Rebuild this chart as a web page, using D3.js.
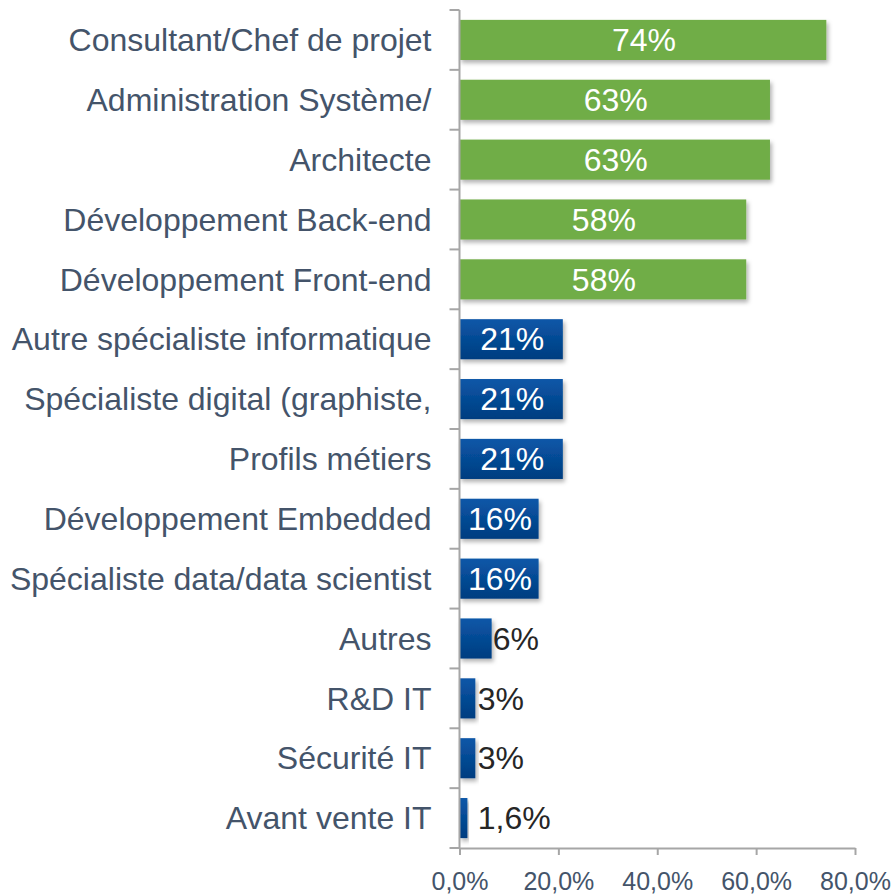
<!DOCTYPE html>
<html>
<head>
<meta charset="utf-8">
<script src="https://cdn.jsdelivr.net/npm/d3@7"></script>
<style>
  body { margin: 0; background: #fff; }
  text { font-family: "Liberation Sans", Arial, sans-serif; }
</style>
</head>
<body>
<div id="chart"></div>
<script>
// data
let categories = [
  'Consultant/Chef de projet', 'Administration Système/', 'Architecte',
  'Développement Back-end', 'Développement Front-end', 'Autre spécialiste informatique',
  'Spécialiste digital (graphiste,', 'Profils métiers', 'Développement Embedded',
  'Spécialiste data/data scientist', 'Autres', 'R&D IT', 'Sécurité IT', 'Avant vente IT'
];
let values = [74.2, 62.8, 62.8, 58.0, 58.0, 20.9, 20.9, 20.9, 16.0, 16.0, 6.5, 3.2, 3.2, 1.6];
let labels = ['74%', '63%', '63%', '58%', '58%', '21%', '21%', '21%', '16%', '16%', '6%', '3%', '3%', '1,6%'];
let groups = ['top', 'top', 'top', 'top', 'top', 'rest', 'rest', 'rest', 'rest', 'rest', 'rest', 'rest', 'rest', 'rest'];
let xTicks = [0, 20, 40, 60, 80];

let config = { width: 896, height: 895 };
let axisColor = '#a6a6a6';
let textColor = '#44546A';

let svg = d3.select('#chart').append('svg')
  .attr('width', config.width)
  .attr('height', config.height);

let defs = svg.append('defs');
let grad = defs.append('linearGradient')
  .attr('id', 'blueGrad')
  .attr('x1', 0).attr('y1', 0).attr('x2', 0).attr('y2', 1);
grad.append('stop').attr('offset', '0%').attr('stop-color', '#0B57A8');
grad.append('stop').attr('offset', '100%').attr('stop-color', '#003D80');

let shadow = defs.append('filter').attr('id', 'shadow')
  .attr('x', '-10%').attr('y', '-20%').attr('width', '130%').attr('height', '160%');
shadow.append('feDropShadow')
  .attr('dx', 2).attr('dy', 3).attr('stdDeviation', 2)
  .attr('flood-color', '#000').attr('flood-opacity', 0.3);

let x = d3.scaleLinear().domain([0, 80]).range([459.5, 855]);
let y = d3.scaleBand().domain(categories).range([10, 848])
  .paddingInner(0.33).paddingOuter(0.165);

let rows = categories.map(function(c, i) {
  return { cat: c, value: values[i], label: labels[i], group: groups[i] };
});

// bars
svg.selectAll('rect.bar')
  .data(rows).enter()
  .append('rect')
  .attr('class', 'bar')
  .attr('x', x(0))
  .attr('y', function(d) { return y(d.cat); })
  .attr('width', function(d) { return x(d.value) - x(0); })
  .attr('height', y.bandwidth())
  .attr('fill', function(d) { return d.group === 'top' ? '#70AD47' : 'url(#blueGrad)'; })
  .attr('filter', 'url(#shadow)');

// vertical axis: line plus ticks at band boundaries
let yAxis = svg.append('g').attr('class', 'y-axis');
let boundaries = d3.range(categories.length + 1).map(function(i) {
  return y.range()[0] + i * y.step();
});
yAxis.append('line')
  .attr('x1', x(0)).attr('x2', x(0))
  .attr('y1', boundaries[0]).attr('y2', boundaries[boundaries.length - 1])
  .attr('stroke', axisColor).attr('stroke-width', 2);
yAxis.selectAll('line.tick')
  .data(boundaries).enter()
  .append('line')
  .attr('class', 'tick')
  .attr('x1', x(0) - 10).attr('x2', x(0))
  .attr('y1', function(d) { return d; }).attr('y2', function(d) { return d; })
  .attr('stroke', axisColor).attr('stroke-width', 2);

yAxis.selectAll('text')
  .data(categories).enter()
  .append('text')
  .attr('x', x(0) - 28)
  .attr('y', function(d) { return y(d) + y.bandwidth() / 2; })
  .attr('dy', '0.35em')
  .attr('text-anchor', 'end')
  .attr('font-size', 32)
  .attr('fill', textColor)
  .text(function(d) { return d; });

// horizontal axis
let xAxis = svg.append('g')
  .attr('transform', 'translate(0,' + boundaries[boundaries.length - 1] + ')')
  .call(d3.axisBottom(x)
    .tickValues(xTicks)
    .tickSize(7)
    .tickSizeOuter(0)
    .tickFormat(function(d) { return d.toFixed(1).replace('.', ',') + '%'; }));
xAxis.select('.domain').attr('stroke', axisColor).attr('stroke-width', 2);
xAxis.selectAll('.tick line').attr('stroke', axisColor).attr('stroke-width', 2);
xAxis.selectAll('.tick text')
  .attr('y', 24)
  .attr('dy', '0.71em')
  .attr('font-size', 25)
  .attr('font-family', '"Liberation Sans", Arial, sans-serif')
  .attr('fill', textColor);

// data labels: inside when the bar is wide enough, else just past its end
svg.selectAll('text.value')
  .data(rows).enter()
  .append('text')
  .attr('class', 'value')
  .attr('x', function(d) {
    if (d.value > 10) return (x(0) + x(d.value)) / 2 + 1;
    return Math.max(x(d.value), x(3.5)) + 1;
  })
  .attr('y', function(d) { return y(d.cat) + y.bandwidth() / 2; })
  .attr('dy', '0.35em')
  .attr('text-anchor', function(d) { return d.value > 10 ? 'middle' : 'start'; })
  .attr('font-size', 32)
  .attr('fill', function(d) { return d.value > 10 ? '#ffffff' : '#262626'; })
  .text(function(d) { return d.label; });
</script>
</body>
</html>
